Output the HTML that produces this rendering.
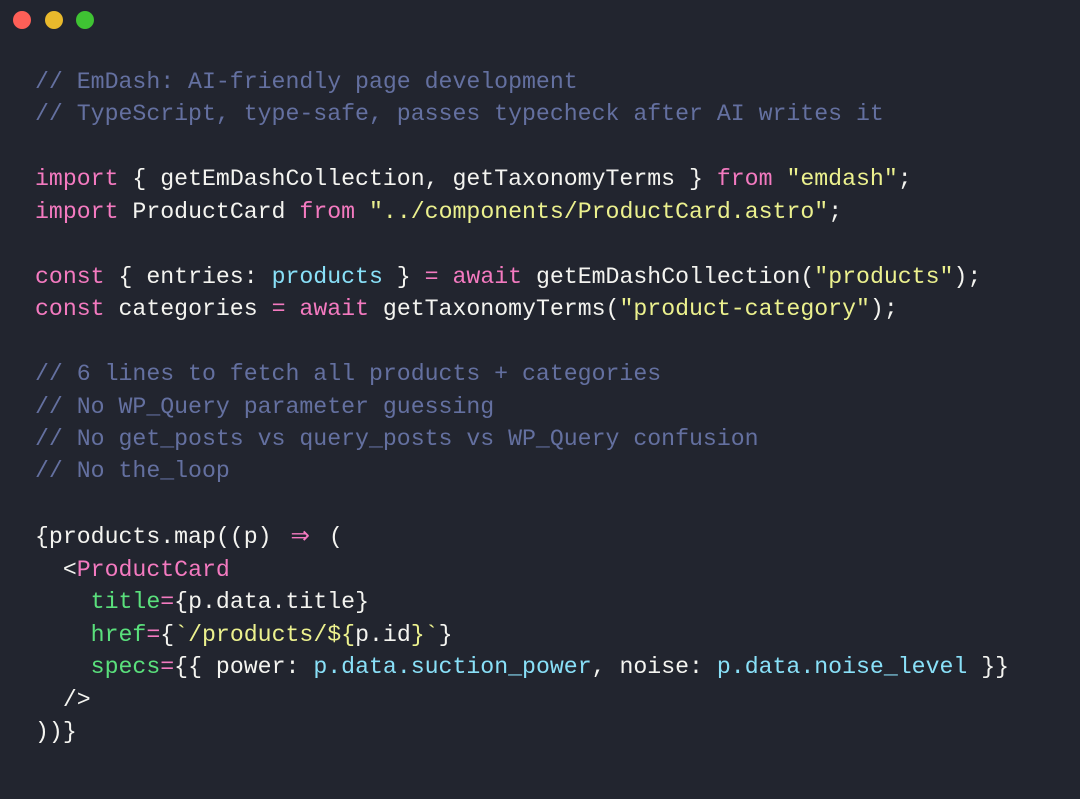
<!DOCTYPE html>
<html><head><meta charset="utf-8"><style>
html,body{margin:0;padding:0;}
body{width:1080px;height:799px;background:#22252f;overflow:hidden;position:relative;}
.dot{position:absolute;top:11px;width:18px;height:18px;border-radius:50%;}
pre{position:absolute;left:35px;top:66px;margin:0;font-family:"Liberation Mono",monospace;font-size:23.2px;line-height:32.45px;color:#f4f4f0;white-space:pre;}
.c{color:#6470a0}.k{color:#f47ac0}.s{color:#ecf18e}.g{color:#5ae07c}.y{color:#89e0f8}
.ar{display:inline-block;width:2ch;text-align:center;font-family:"DejaVu Sans",sans-serif;}
</style></head><body>
<div class="dot" style="left:13px;background:#fe5f57"></div>
<div class="dot" style="left:45px;background:#e9b92c"></div>
<div class="dot" style="left:76px;background:#3fc333"></div>
<pre><span class="c">// EmDash: AI-friendly page development</span>
<span class="c">// TypeScript, type-safe, passes typecheck after AI writes it</span>

<span class="k">import</span> { getEmDashCollection, getTaxonomyTerms } <span class="k">from</span> <span class="s">"emdash"</span>;
<span class="k">import</span> ProductCard <span class="k">from</span> <span class="s">"../components/ProductCard.astro"</span>;

<span class="k">const</span> { entries: <span class="y">products</span> } <span class="k">=</span> <span class="k">await</span> getEmDashCollection(<span class="s">"products"</span>);
<span class="k">const</span> categories <span class="k">=</span> <span class="k">await</span> getTaxonomyTerms(<span class="s">"product-category"</span>);

<span class="c">// 6 lines to fetch all products + categories</span>
<span class="c">// No WP_Query parameter guessing</span>
<span class="c">// No get_posts vs query_posts vs WP_Query confusion</span>
<span class="c">// No the_loop</span>

{products.map((p) <span class="k ar">⇒</span> (
  &lt;<span class="k">ProductCard</span>
    <span class="g">title</span><span class="k">=</span>{p.data.title}
    <span class="g">href</span><span class="k">=</span>{<span class="s">`/products/${</span>p.id<span class="s">}`</span>}
    <span class="g">specs</span><span class="k">=</span>{{ power: <span class="y">p.data.suction_power</span>, noise: <span class="y">p.data.noise_level</span> }}
  /&gt;
))}</pre>
</body></html>
